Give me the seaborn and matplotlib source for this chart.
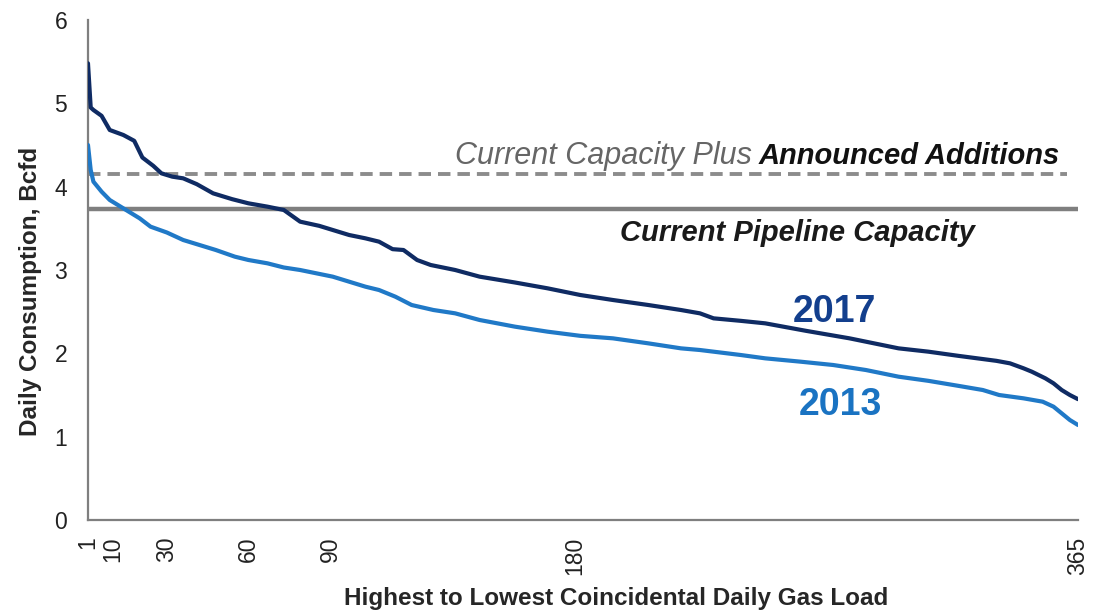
import matplotlib
matplotlib.use("Agg")
import matplotlib.pyplot as plt
import seaborn as sns
import pandas as pd

# ---- data ----
days_2017 = [1, 2, 3, 6, 9, 14, 18, 21, 25, 28, 32, 36, 41, 47, 54, 60, 67, 73, 79, 86,
             91, 97, 103, 108, 113, 117, 122, 127, 136, 145, 158, 170, 182, 194, 207,
             219, 226, 231, 241, 250, 265, 281, 290, 299, 310, 321, 335, 340, 345, 348,
             353, 356, 359, 362, 365]
load_2017 = [5.48, 4.95, 4.92, 4.85, 4.68, 4.62, 4.55, 4.35, 4.25, 4.16, 4.12, 4.10, 4.03,
             3.92, 3.85, 3.80, 3.76, 3.72, 3.58, 3.53, 3.48, 3.42, 3.38, 3.34, 3.25, 3.24,
             3.12, 3.06, 3.00, 2.92, 2.85, 2.78, 2.70, 2.64, 2.58, 2.52, 2.48, 2.42, 2.39,
             2.36, 2.27, 2.18, 2.12, 2.06, 2.02, 1.97, 1.91, 1.88, 1.82, 1.78, 1.70, 1.64,
             1.56, 1.50, 1.45]

days_2013 = [1, 2, 3, 6, 9, 13, 17, 20, 24, 30, 36, 42, 48, 55, 60, 67, 73, 79, 85, 91,
             97, 103, 108, 114, 120, 128, 136, 145, 158, 170, 182, 194, 207, 219, 226,
             241, 250, 263, 275, 287, 299, 310, 321, 330, 336, 345, 352, 356, 359, 362, 365]
load_2013 = [4.50, 4.20, 4.06, 3.94, 3.84, 3.76, 3.68, 3.62, 3.52, 3.45, 3.36, 3.30, 3.24,
             3.16, 3.12, 3.08, 3.03, 3.00, 2.96, 2.92, 2.86, 2.80, 2.76, 2.68, 2.58, 2.52,
             2.48, 2.40, 2.32, 2.26, 2.21, 2.18, 2.12, 2.06, 2.04, 1.98, 1.94, 1.90, 1.86,
             1.80, 1.72, 1.67, 1.61, 1.56, 1.50, 1.46, 1.42, 1.36, 1.28, 1.20, 1.14]

pipeline_capacity = 3.73
capacity_plus_additions = 4.15

x_ticks = [1, 10, 30, 60, 90, 180, 365]
y_ticks = [0, 1, 2, 3, 4, 5, 6]

# ---- styling ----
sns.set_style("white")
plt.rcParams["font.family"] = ["Liberation Sans", "DejaVu Sans"]

c2017_line = "#0f2b63"
c2017_text = "#133f8d"
c2013_line = "#2079c7"
c2013_text = "#1a73c2"
grey = "#7f7f7f"

fig = plt.figure(figsize=(10.97, 6.11), dpi=100)
ax = fig.add_axes([0.0802, 0.1489, 0.9025, 0.8184])

df17 = pd.DataFrame({"day": days_2017, "load": load_2017})
df13 = pd.DataFrame({"day": days_2013, "load": load_2013})

ax.hlines(pipeline_capacity, 1, 365, color=grey, lw=3.2, zorder=1)
ax.hlines(capacity_plus_additions, 1, 361, color="#8c8c8c", lw=2.8,
          linestyles=(0, (3.2, 1.8)), zorder=1)

sns.lineplot(data=df17, x="day", y="load", ax=ax, color=c2017_line, lw=3, zorder=3)
sns.lineplot(data=df13, x="day", y="load", ax=ax, color=c2013_line, lw=3, zorder=3)

ax.set_xlim(1, 365)
ax.set_ylim(0, 6)
ax.set_xticks(x_ticks)
ax.set_xticklabels([str(t) for t in x_ticks], rotation=90, fontsize=16.5)
ax.set_yticks(y_ticks)
ax.set_yticklabels([str(t) for t in y_ticks], fontsize=16.5)
ax.tick_params(axis="x", length=0, pad=12, colors="#222222")
ax.tick_params(axis="y", length=8, width=1.2, direction="out", color=grey,
               pad=7, labelcolor="#222222")
for s in ["top", "right"]:
    ax.spines[s].set_visible(False)
for s in ["left", "bottom"]:
    ax.spines[s].set_color(grey)
    ax.spines[s].set_linewidth(1.6)

ax.set_xlabel("Highest to Lowest Coincidental Daily Gas Load", fontsize=17.5,
              fontweight="bold")
ax.set_ylabel("Daily Consumption, Bcfd", fontsize=17.5, fontweight="bold")
ax.xaxis.set_label_coords(0.533, -0.156)
ax.xaxis.label.set_va("center")
ax.yaxis.set_label_coords(-0.058, 0.458)
ax.yaxis.label.set_va("center")

# annotations
ax.text(275.3, 2.38, "2017", color=c2017_text, fontsize=27, fontweight="bold",
        ha="center", va="baseline")
ax.text(277.5, 1.26, "2013", color=c2013_text, fontsize=27, fontweight="bold",
        ha="center", va="baseline")
ax.text(261.7, 3.35, "Current Pipeline Capacity", color="#1a1a1a", fontsize=21,
        fontweight="bold", fontstyle="italic", ha="center", va="baseline")

t2 = ax.text(358.4, 4.27, "Announced Additions", color="#111111", fontsize=21,
             fontweight="bold", fontstyle="italic", ha="right", va="baseline")
fig.canvas.draw()
bb = t2.get_window_extent(renderer=fig.canvas.get_renderer())
x_left_data = ax.transData.inverted().transform((bb.x0 - 7, bb.y0))[0]
ax.text(x_left_data, 4.27, "Current Capacity Plus", color="#666666", fontsize=22,
        fontstyle="italic", ha="right", va="baseline")

fig.savefig("out.png", dpi=100)
